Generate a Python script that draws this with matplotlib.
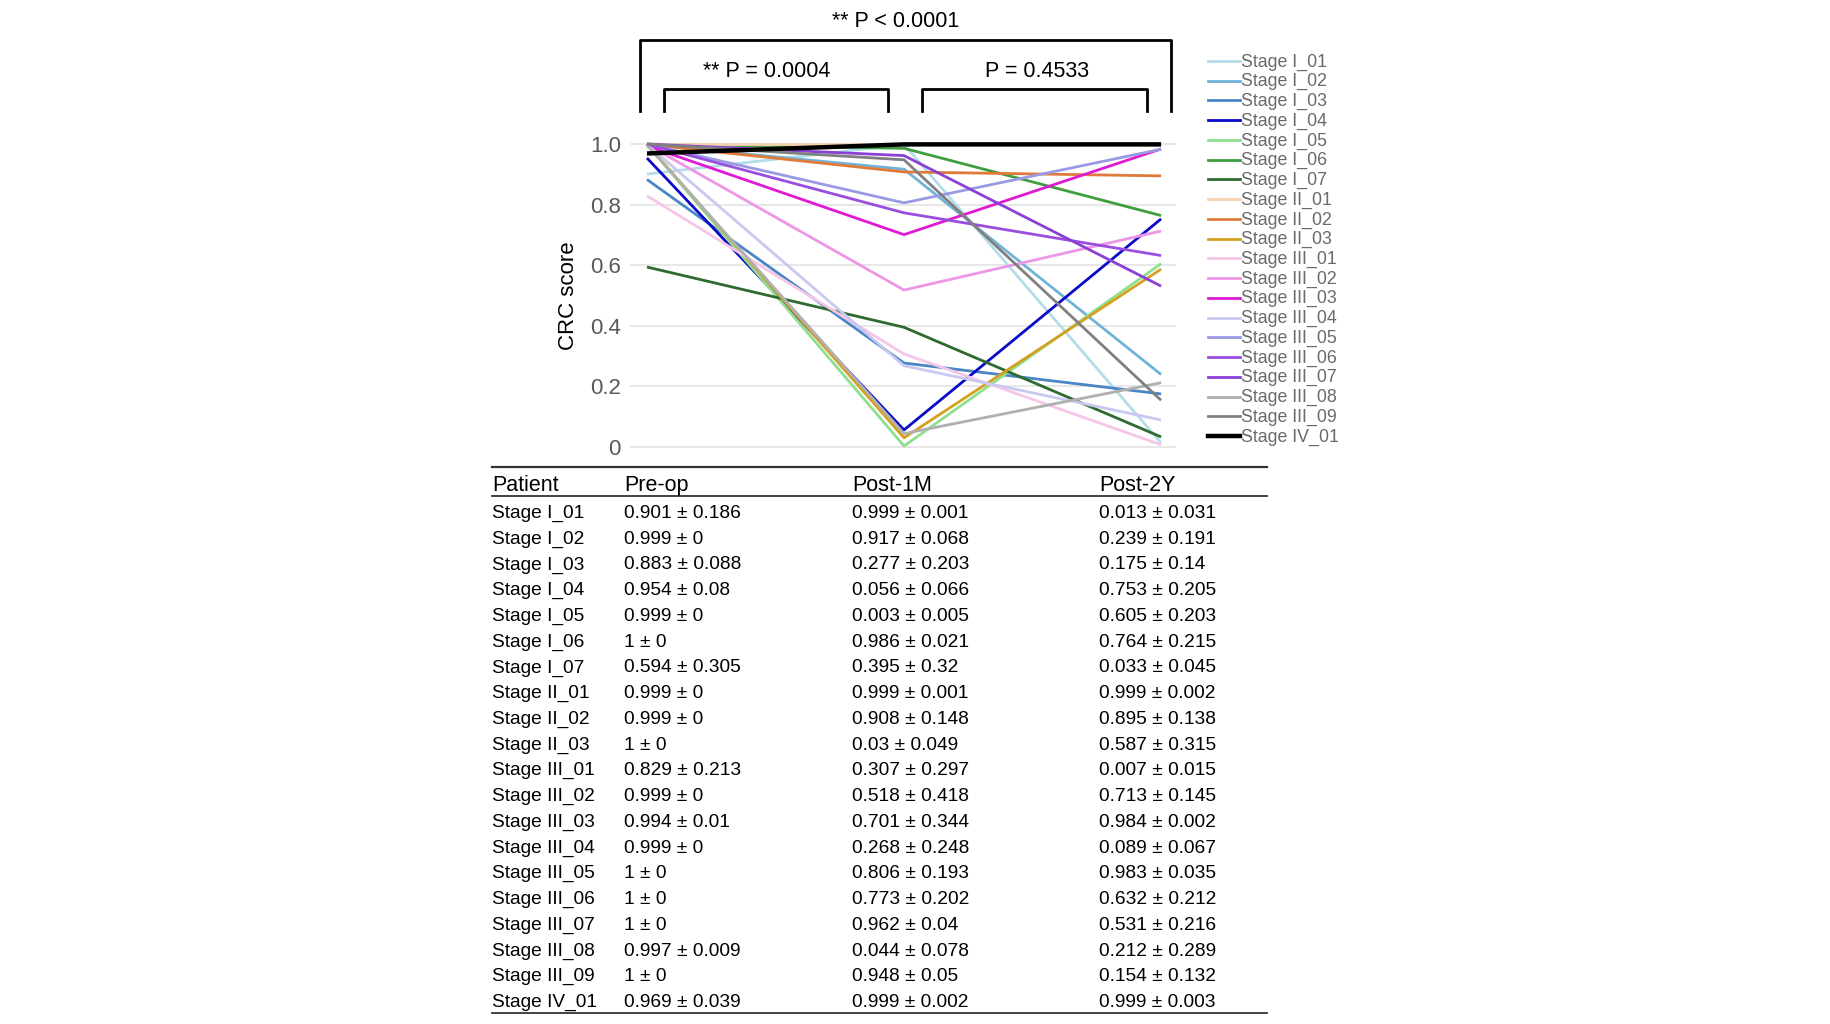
import matplotlib.pyplot as plt
from matplotlib.lines import Line2D

plt.rcParams['font.family'] = ['Liberation Sans', 'DejaVu Sans']

timepoints = ["Pre-op", "Post-1M", "Post-2Y"]
patients = ["Stage I_01", "Stage I_02", "Stage I_03", "Stage I_04", "Stage I_05",
            "Stage I_06", "Stage I_07", "Stage II_01", "Stage II_02", "Stage II_03",
            "Stage III_01", "Stage III_02", "Stage III_03", "Stage III_04", "Stage III_05",
            "Stage III_06", "Stage III_07", "Stage III_08", "Stage III_09", "Stage IV_01"]
pre_mean = [0.901, 0.999, 0.883, 0.954, 0.999, 1, 0.594, 0.999, 0.999, 1,
            0.829, 0.999, 0.994, 0.999, 1, 1, 1, 0.997, 1, 0.969]
pre_sd = [0.186, 0, 0.088, 0.08, 0, 0, 0.305, 0, 0, 0,
          0.213, 0, 0.01, 0, 0, 0, 0, 0.009, 0, 0.039]
m1_mean = [0.999, 0.917, 0.277, 0.056, 0.003, 0.986, 0.395, 0.999, 0.908, 0.03,
           0.307, 0.518, 0.701, 0.268, 0.806, 0.773, 0.962, 0.044, 0.948, 0.999]
m1_sd = [0.001, 0.068, 0.203, 0.066, 0.005, 0.021, 0.32, 0.001, 0.148, 0.049,
         0.297, 0.418, 0.344, 0.248, 0.193, 0.202, 0.04, 0.078, 0.05, 0.002]
y2_mean = [0.013, 0.239, 0.175, 0.753, 0.605, 0.764, 0.033, 0.999, 0.895, 0.587,
           0.007, 0.713, 0.984, 0.089, 0.983, 0.632, 0.531, 0.212, 0.154, 0.999]
y2_sd = [0.031, 0.191, 0.14, 0.205, 0.203, 0.215, 0.045, 0.002, 0.138, 0.315,
         0.015, 0.145, 0.002, 0.067, 0.035, 0.212, 0.216, 0.289, 0.132, 0.003]
colors = ["#b3dde8", "#6fb3d8", "#4a86c6", "#0a0ac8", "#8ee08e", "#3f9f3f", "#2f6a2f",
          "#f7d2b0", "#e07a3a", "#d4a020", "#f6c6e8", "#ee96e6", "#e01ad2", "#c8c8f0",
          "#9a9ae4", "#9a4ee0", "#8a40d4", "#b0b0b0", "#808080", "#000000"]
pvals = ["** P < 0.0001", "** P = 0.0004", "P = 0.4533"]

fig = plt.figure(figsize=(18.3, 10.24), dpi=100)
W, H = 1830, 1024


def fx(px):
    return px / W


def fy(py):
    return 1 - py / H


ax = fig.add_axes([fx(630), fy(456), fx(1176) - fx(630), fy(135) - fy(456)])
xs = range(len(timepoints))
for i, name in enumerate(patients):
    lw = 3.2 if name == "Stage IV_01" else 2.0
    ax.plot(xs, [pre_mean[i], m1_mean[i], y2_mean[i]], color=colors[i], lw=lw,
            solid_capstyle='butt')

ax.set_xlim(-0.066, 2.058)
ax.set_ylim(-0.03, 1.03)
ax.set_yticks([0, 0.2, 0.4, 0.6, 0.8, 1.0])
ax.set_yticklabels(["0", "0.2", "0.4", "0.6", "0.8", "1.0"])
ax.set_xticks([])
ax.tick_params(axis='y', length=0, labelsize=16, labelcolor="#595959", pad=6.5)
ax.grid(axis='y', color="#e3e3e3", lw=1.2)
ax.set_axisbelow(True)
for s in ax.spines.values():
    s.set_visible(False)
ax.set_ylabel("CRC score", fontsize=16, labelpad=8)

# significance brackets
def bracket(x0, x1, ytop, ybot):
    ax.plot([x0, x0, x1, x1], [ybot, ytop, ytop, ybot], color="black", lw=2,
            clip_on=False)

bracket(-0.027, 2.04, 1.343, 1.109)
bracket(0.066, 0.938, 1.182, 1.109)
bracket(1.07, 1.946, 1.182, 1.109)
ax.text(0.969, 1.405, pvals[0], ha='center', va='center', fontsize=15.5)
ax.text(0.467, 1.24, pvals[1], ha='center', va='center', fontsize=15.5)
ax.text(1.518, 1.24, pvals[2], ha='center', va='center', fontsize=15.5)

# legend
for i, name in enumerate(patients):
    yy = 61 + i * 19.74
    lw = 3.2 if name == "Stage IV_01" else 2.0
    fig.add_artist(Line2D([fx(1208), fx(1240)], [fy(yy), fy(yy)], color=colors[i],
                          lw=lw, transform=fig.transFigure))
    fig.text(fx(1241), fy(yy + 1), name, ha='left', va='center', fontsize=12.8,
             color="#6a6a6a")

# table
tx = [492, 624, 852, 1099]
for py, lw in [(467, 1.6), (496, 1.3), (1013, 1.3)]:
    fig.add_artist(Line2D([fx(492), fx(1267)], [fy(py), fy(py)], color="#333333",
                          lw=lw, transform=fig.transFigure))
for x, h in zip(tx, ["Patient"] + timepoints):
    fig.text(fx(x), fy(485.5), h, ha='left', va='center', fontsize=15.5)


def fmt(m, s):
    return "{:g} ± {:g}".format(m, s)


for i, name in enumerate(patients):
    yy = 513.5 + i * 25.74
    cells = [name, fmt(pre_mean[i], pre_sd[i]), fmt(m1_mean[i], m1_sd[i]),
             fmt(y2_mean[i], y2_sd[i])]
    for x, c in zip(tx, cells):
        fig.text(fx(x), fy(yy), c, ha='left', va='center', fontsize=13.8)

fig.savefig("out.png", dpi=100)
